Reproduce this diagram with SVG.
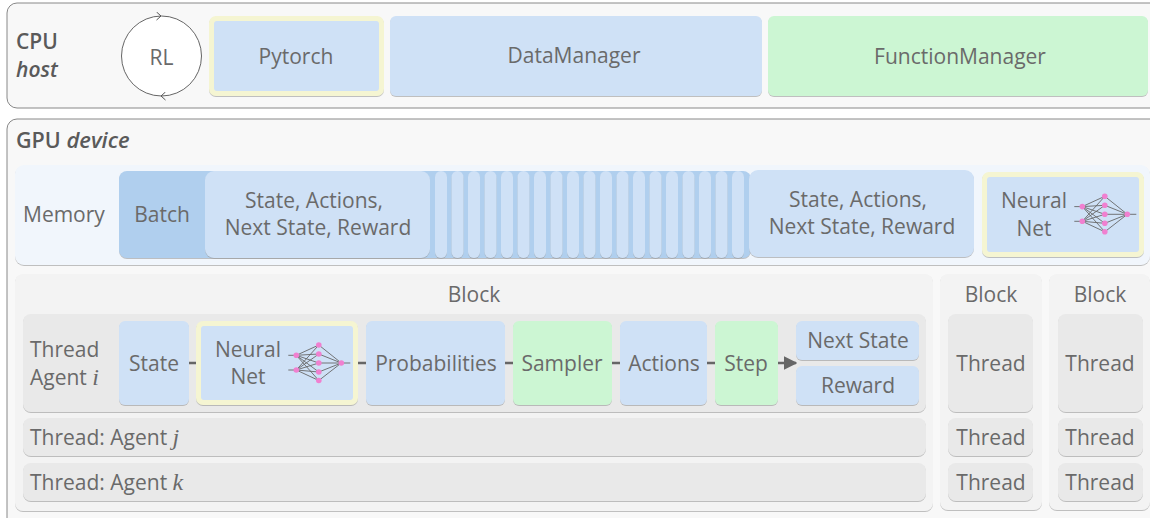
<svg xmlns="http://www.w3.org/2000/svg" width="1150" height="518" viewBox="0 0 1150 518">
<defs>
<style>
text{font-family:"Open Sans","Noto Sans",sans-serif;font-size:21px;font-weight:400;fill:#6a6a6a;text-anchor:middle}
.l{text-anchor:start}
.b{font-weight:600;fill:#5a5a5a;font-size:21.500px}
.i{font-style:italic;font-size:22px}
.h{font-weight:600;fill:#5a5a5a;font-size:21px}
.m{font-family:"Liberation Serif",serif;font-style:italic;font-size:24px;font-weight:400;fill:#6a6a6a}
.outer{fill:#f8f8f8;stroke:#888;stroke-width:1}
.blue{fill:#cfe1f6;filter:url(#s)}
.green{fill:#ccf6d3;filter:url(#s)}
.gray{fill:#e9e9e9;filter:url(#s)}
.panel{fill:#f3f3f3;filter:url(#s)}
.yel{fill:#f5f5d2;filter:url(#s)}
.conn{stroke:#666;stroke-width:2.500;fill:none}
.e{stroke:#666;stroke-width:.9;fill:none}
.n{fill:#f080d0}
</style>
<filter id="s" x="-5%" y="-5%" width="110%" height="110%"><feDropShadow dx="0" dy="1" stdDeviation=".7" flood-color="#999" flood-opacity=".6"/></filter>
<marker id="a" viewBox="0 0 10 10" refX="9" refY="5" markerWidth="5.500" markerHeight="5.500" orient="auto"><path d="M0 0L10 5L0 10Z" fill="#666"/></marker>
<marker id="o" viewBox="0 0 10 10" refX="6" refY="5" markerWidth="9" markerHeight="9" orient="auto" markerUnits="userSpaceOnUse"><path d="M1 0.500L6 5L1 9.500" fill="none" stroke="#555" stroke-width="1.100"/></marker>
<g id="nn">
<path class="e" d="M-8 -7.700H0M-8 7H0M45 0H54M22.500 -18L45 0M22.500 -9L45 0M22.500 0H45M22.500 9L45 0M22.500 17.500L45 0M0 -7.700L22.500 -18M0 -7.700L22.500 -9M0 -7.700L22.500 0M0 -7.700L22.500 9M0 -7.700L22.500 17.500M0 7L22.500 -18M0 7L22.500 -9M0 7L22.500 0M0 7L22.500 9M0 7L22.500 17.500"/>
<circle class="n" cx="0" cy="-7.700" r="2.800"/><circle class="n" cx="0" cy="7" r="2.800"/>
<circle class="n" cx="22.500" cy="-18" r="2.800"/><circle class="n" cx="22.500" cy="-9" r="2.800"/><circle class="n" cx="22.500" cy="0" r="2.800"/><circle class="n" cx="22.500" cy="9" r="2.800"/><circle class="n" cx="22.500" cy="17.500" r="2.800"/>
<circle class="n" cx="45" cy="0" r="2.800"/>
</g>
</defs>
<rect width="1150" height="518" fill="#fff"/>

<g id="cpu">
<rect class="outer" x="7" y="3" width="1160" height="105" rx="10"/>
<text class="l h" x="16" y="49">CPU</text>
<text class="l h" x="16" y="77" font-style="italic">host</text>
</g>
<g id="rl">
<circle cx="161.500" cy="56" r="40" fill="#fff" stroke="#666" stroke-width="1"/>
<path d="M155 16L161 16" stroke="none" fill="none" marker-end="url(#o)"/>
<path d="M168 96L161 96" stroke="none" fill="none" marker-end="url(#o)"/>
<text x="161.500" y="65">RL</text>
</g>
<g id="pytorch">
<rect class="yel" x="209" y="16" width="175" height="80" rx="7"/>
<rect x="214" y="21" width="165" height="70" rx="3" fill="#cfe1f6"/>
<text x="296" y="64">Pytorch</text>
</g>
<g id="datamanager"><rect class="blue" x="390" y="16" width="372" height="80" rx="6"/><text x="574" y="63">DataManager</text></g>
<g id="functionmanager"><rect class="green" x="768" y="16" width="380" height="80" rx="6"/><text x="960" y="64">FunctionManager</text></g>

<g id="gpu">
<rect class="outer" x="7" y="119" width="1160" height="420" rx="10"/>
<text class="l b" x="16" y="148">GPU <tspan class="i">device</tspan></text>
</g>

<g id="memory">
<rect x="15" y="165" width="1135" height="100" rx="9" fill="#f1f6fc" filter="url(#s)"/>
<text class="l" x="23" y="222">Memory</text>
</g>
<g id="batch">
<rect x="119" y="171" width="632" height="87" rx="8" fill="#b0cfee" filter="url(#s)"/>
<text x="162" y="222">Batch</text>
</g>
<g id="slices" fill="#cfe1f6" filter="url(#s)">
<rect x="435" y="171" width="12" height="87" rx="6"/><rect x="451.500" y="171" width="12" height="87" rx="6"/><rect x="468" y="171" width="12" height="87" rx="6"/><rect x="484.500" y="171" width="12" height="87" rx="6"/><rect x="501" y="171" width="12" height="87" rx="6"/><rect x="517.500" y="171" width="12" height="87" rx="6"/><rect x="534" y="171" width="12" height="87" rx="6"/><rect x="550.500" y="171" width="12" height="87" rx="6"/><rect x="567" y="171" width="12" height="87" rx="6"/><rect x="583.500" y="171" width="12" height="87" rx="6"/><rect x="600" y="171" width="12" height="87" rx="6"/><rect x="616.500" y="171" width="12" height="87" rx="6"/><rect x="633" y="171" width="12" height="87" rx="6"/><rect x="649.500" y="171" width="12" height="87" rx="6"/><rect x="666" y="171" width="12" height="87" rx="6"/><rect x="682.500" y="171" width="12" height="87" rx="6"/><rect x="699" y="171" width="12" height="87" rx="6"/><rect x="715.500" y="171" width="12" height="87" rx="6"/><rect x="732" y="171" width="12" height="87" rx="6"/>
</g>
<g id="transition-first"><rect class="blue" x="205" y="171" width="225" height="87" rx="9"/><text x="314" y="208">State, Actions,</text><text x="318" y="235">Next State, Reward</text></g>
<g id="transition-last"><rect class="blue" x="749" y="170" width="225" height="87" rx="9"/><text x="858" y="207">State, Actions,</text><text x="862" y="234">Next State, Reward</text></g>
<g id="neuralnet-memory">
<rect class="yel" x="982" y="172" width="162" height="85" rx="7"/>
<rect x="987" y="177" width="152" height="75" rx="3" fill="#cfe1f6"/>
<text x="1034" y="208">Neural</text><text x="1034" y="236">Net</text>
<use href="#nn" x="1082.300" y="214.300"/>
</g>

<g id="block-main">
<rect class="panel" x="15" y="274" width="918" height="237" rx="8"/>
<text x="474" y="302">Block</text>
</g>
<g id="block-2"><rect class="panel" x="940" y="274" width="102" height="236" rx="8"/><text x="991" y="302">Block</text></g>
<g id="block-3"><rect class="panel" x="1049" y="274" width="101" height="236" rx="8"/><text x="1100" y="302">Block</text></g>

<g id="thread-i">
<rect class="gray" x="23" y="314" width="903" height="98" rx="8"/>
<text class="l" x="30" y="357">Thread</text>
<text class="l" x="30" y="385">Agent <tspan class="m">i</tspan></text>
</g>
<g id="thread-j"><rect class="gray" x="23" y="418" width="903" height="38" rx="8"/><text class="l" x="30" y="445">Thread: Agent <tspan class="m">j</tspan></text></g>
<g id="thread-k"><rect class="gray" x="23" y="463" width="903" height="38" rx="8"/><text class="l" x="30" y="490">Thread: Agent <tspan class="m">k</tspan></text></g>

<g id="connectors">
<path class="conn" d="M189 363H197M358 363H366M505 363H513M612 363H620M707 363H715"/>
<path class="conn" d="M778 363H796" marker-end="url(#a)"/>
</g>

<g id="state"><rect class="blue" x="119" y="321" width="70" height="84" rx="6"/><text x="154" y="371">State</text></g>
<g id="neuralnet-agent">
<rect class="yel" x="196" y="321" width="162" height="84" rx="7"/>
<rect x="201" y="326" width="152" height="74" rx="3" fill="#cfe1f6"/>
<text x="248" y="357">Neural</text><text x="248" y="384">Net</text>
<use href="#nn" x="296.300" y="363"/>
</g>
<g id="probabilities"><rect class="blue" x="366" y="321" width="139" height="84" rx="6"/><text x="436" y="371">Probabilities</text></g>
<g id="sampler"><rect class="green" x="513" y="321" width="99" height="84" rx="6"/><text x="562" y="371">Sampler</text></g>
<g id="actions"><rect class="blue" x="620" y="321" width="87" height="84" rx="6"/><text x="664" y="371">Actions</text></g>
<g id="step"><rect class="green" x="715" y="321" width="63" height="84" rx="6"/><text x="746" y="371">Step</text></g>
<g id="nextstate"><rect class="blue" x="796" y="321" width="123" height="39" rx="6"/><text x="858" y="348">Next State</text></g>
<g id="reward"><rect class="blue" x="796" y="366" width="123" height="39" rx="6"/><text x="858" y="393">Reward</text></g>

<g id="threads-2">
<rect class="gray" x="948" y="314" width="85" height="98" rx="8"/><text x="991" y="371">Thread</text>
<rect class="gray" x="948" y="418" width="85" height="38" rx="8"/><text x="991" y="445">Thread</text>
<rect class="gray" x="948" y="463" width="85" height="38" rx="8"/><text x="991" y="490">Thread</text>
</g>
<g id="threads-3">
<rect class="gray" x="1058" y="314" width="85" height="98" rx="8"/><text x="1100" y="371">Thread</text>
<rect class="gray" x="1058" y="418" width="85" height="38" rx="8"/><text x="1100" y="445">Thread</text>
<rect class="gray" x="1058" y="463" width="85" height="38" rx="8"/><text x="1100" y="490">Thread</text>
</g>
</svg>
